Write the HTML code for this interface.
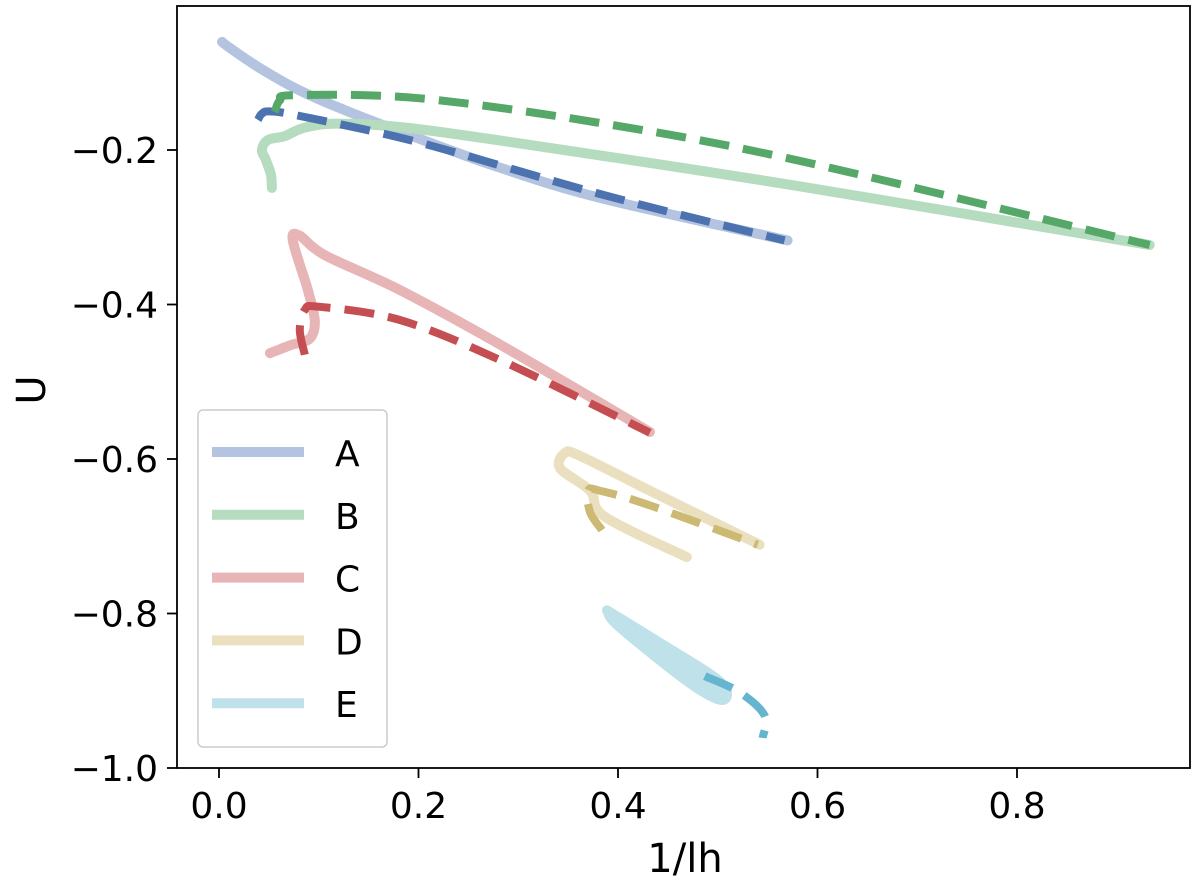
<!DOCTYPE html>
<html><head><meta charset="utf-8"><style>
body{margin:0;background:#fff}
text{font-family:"DejaVu Sans","Liberation Sans",sans-serif}
</style></head><body>
<svg id="c" width="1200" height="885" xmlns="http://www.w3.org/2000/svg">
<rect x="177" y="6" width="1013" height="762" fill="#fff" stroke="#000" stroke-width="1.8"/>
<g id="curves"></g>
<g id="axes"></g>
<g id="legend"></g>
<text x="685" y="872" font-size="40" text-anchor="middle">1/lh</text>
<text x="0" y="0" font-size="40" text-anchor="middle" transform="translate(45,390) rotate(-90)">U</text>
</svg>
<script>
const xTicks=[0.0,0.2,0.4,0.6,0.8];
const xTickLabels=["0.0","0.2","0.4","0.6","0.8"];
const yTicks=[-0.2,-0.4,-0.6,-0.8,-1.0];
const yTickLabels=["−0.2","−0.4","−0.6","−0.8","−1.0"];
const seriesNames=["A","B","C","D","E"];
const lightColors=["#b3c3e0","#b5dcbe","#e8b5b7","#eae0c0","#bfe1ea"];
const darkColors=["#4c72b0","#55a868","#c44e52","#ccb974","#64b5cd"];
const aSolidX=[0.003,0.011,0.041,0.081,0.131,0.2,0.282,0.382,0.570];
const aSolidY=[-0.060,-0.068,-0.094,-0.123,-0.151,-0.185,-0.223,-0.262,-0.317];
const aDashX=[0.039,0.043,0.051,0.081,0.2,0.382,0.567];
const aDashY=[-0.161,-0.153,-0.150,-0.156,-0.190,-0.257,-0.317];
const bSolidX=[0.053,0.052,0.047,0.043,0.049,0.066,0.086,0.121,0.2,0.382,0.582,0.933];
const bSolidY=[-0.249,-0.232,-0.213,-0.200,-0.187,-0.182,-0.171,-0.166,-0.173,-0.207,-0.247,-0.323];
const bDashX=[0.056,0.061,0.076,0.2,0.382,0.582,0.933];
const bDashY=[-0.151,-0.136,-0.129,-0.133,-0.165,-0.214,-0.323];
const cSolidX=[0.051,0.071,0.091,0.096,0.089,0.074,0.081,0.106,0.181,0.282,0.432];
const cSolidY=[-0.463,-0.453,-0.444,-0.421,-0.381,-0.317,-0.311,-0.336,-0.381,-0.452,-0.565];
const cDashX=[0.086,0.081,0.086,0.101,0.181,0.282,0.432];
const cDashY=[-0.465,-0.433,-0.407,-0.403,-0.420,-0.472,-0.566];
const dSolidX=[0.469,0.387,0.372,0.342,0.347,0.362,0.432,0.542];
const dSolidY=[-0.727,-0.675,-0.641,-0.612,-0.592,-0.596,-0.641,-0.711];
const dDashX=[0.384,0.372,0.370,0.382,0.432,0.540];
const dDashY=[-0.692,-0.669,-0.641,-0.641,-0.660,-0.711];
const eSolidX=[0.389,0.442,0.502,0.505,0.472,0.402,0.389];
const eSolidY=[-0.796,-0.838,-0.888,-0.912,-0.890,-0.818,-0.796];
const eDashX=[0.487,0.522,0.547,0.545];
const eDashY=[-0.881,-0.902,-0.932,-0.961];

const NS="http://www.w3.org/2000/svg";
function xs(v){return 219+v*997.5;}
function ys(v){return 768-(v+1)*772.5;}
function mk(t,a,p){const e=document.createElementNS(NS,t);for(const k in a)e.setAttribute(k,a[k]);p.appendChild(e);return e;}
const curves=document.getElementById('curves');
const solids=[[aSolidX,aSolidY],[bSolidX,bSolidY],[cSolidX,cSolidY],[dSolidX,dSolidY],[eSolidX,eSolidY]];
const dashes=[[aDashX,aDashY],[bDashX,bDashY],[cDashX,cDashY],[dDashX,dDashY],[eDashX,eDashY]];
function pathD(X,Y){
  const P=X.map((x,i)=>[xs(x),ys(Y[i])]);
  let d='M'+P[0][0].toFixed(1)+','+P[0][1].toFixed(1);
  for(let i=0;i<P.length-1;i++){
    const p0=P[Math.max(0,i-1)],p1=P[i],p2=P[i+1],p3=P[Math.min(P.length-1,i+2)];
    const c1=[p1[0]+(p2[0]-p0[0])/6,p1[1]+(p2[1]-p0[1])/6];
    const c2=[p2[0]-(p3[0]-p1[0])/6,p2[1]-(p3[1]-p1[1])/6];
    d+=' C'+c1.map(v=>v.toFixed(1)).join(',')+' '+c2.map(v=>v.toFixed(1)).join(',')+' '+p2.map(v=>v.toFixed(1)).join(',');
  }
  return d;
}
solids.forEach((s,i)=>{
  const p=mk('path',{d:pathD(s[0],s[1]),fill:i===4?lightColors[i]:'none',stroke:lightColors[i],'stroke-width':10,'stroke-linejoin':'round','stroke-linecap':'round'},curves);
  
  
});
dashes.forEach((s,i)=>{
  const p=mk('path',{d:pathD(s[0],s[1]),fill:'none',stroke:darkColors[i],'stroke-width':8,'stroke-dasharray':'30,14','stroke-linejoin':'round'},curves);
  
  
});
const axes=document.getElementById('axes');
xTicks.forEach((v,i)=>{
  const l=mk('line',{x1:xs(v),x2:xs(v),y1:768,y2:778,stroke:'#000','stroke-width':1.8},axes);
  
  
  const t=mk('text',{x:xs(v),y:818,'font-size':36,'text-anchor':'middle'},axes);t.textContent=xTickLabels[i];
  
  
});
yTicks.forEach((v,i)=>{
  const l=mk('line',{x1:167,x2:177,y1:ys(v),y2:ys(v),stroke:'#000','stroke-width':1.8},axes);
  
  
  const t=mk('text',{x:158,y:ys(v)+13,'font-size':36,'text-anchor':'end'},axes);t.textContent=yTickLabels[i];
  
  
});
const lg=document.getElementById('legend');


mk('rect',{x:198,y:410,width:189,height:337,rx:5,fill:'#fff','fill-opacity':0.85,stroke:'#ccc','stroke-width':1.5},lg);
seriesNames.forEach((n,i)=>{
  const y=452+i*62.8;
  const g=mk('g',{},lg);
  
  
  mk('line',{x1:212,x2:304,y1:y,y2:y,stroke:lightColors[i],'stroke-width':10},g);
  const t=mk('text',{x:335,y:y+14,'font-size':36},g);t.textContent=n;
});
</script>
</body></html>
